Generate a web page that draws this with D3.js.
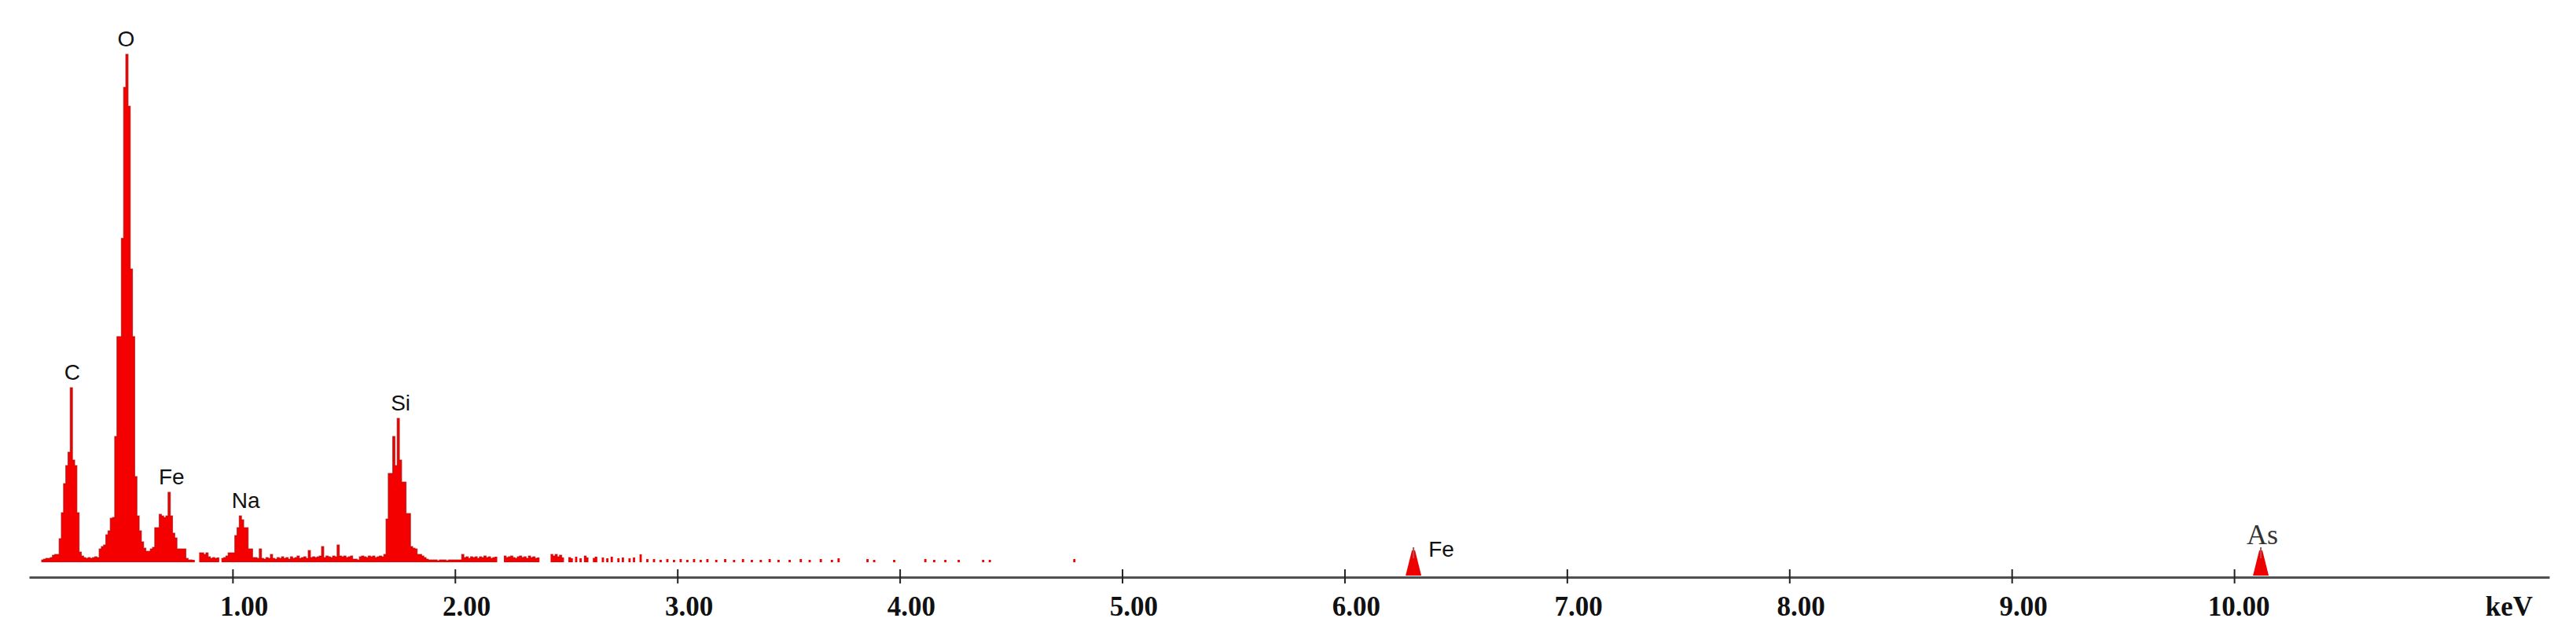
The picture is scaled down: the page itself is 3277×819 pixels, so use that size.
<!DOCTYPE html>
<html>
<head>
<meta charset="utf-8">
<script src="https://cdn.jsdelivr.net/npm/d3@7"></script>
<style>
  html, body { margin: 0; padding: 0; background: #fff; }
  svg { display: block; }
</style>
</head>
<body>
<svg id="chart" width="3277" height="819"></svg>
<script>
// ---------------- DATA ----------------
// Channel counts, 0.01 keV channels, starting at 0.13 keV (dense low-energy region)
const denseStartKeV = 0.13;
const denseCounts = [
  0,3,4,5,5,6,9,10,10,30,
  63,100,123,140,222,130,123,63,13,8,
  6,5,6,5,6,7,6,17,20,22,
  35,40,56,57,160,287,287,412,604,646,
  580,373,287,109,59,40,26,18,14,14,
  17,19,44,44,61,59,57,59,89,59,
  37,31,17,17,17,17,5,3,3,3,
  0,0,12,12,10,12,7,5,6,5,
  6,0,5,6,8,12,12,12,34,44,
  59,54,44,44,17,17,6,6,5,17,
  5,4,6,5,10,5,4,6,5,7,
  5,6,4,7,5,6,8,5,6,7,
  5,15,6,7,6,7,8,20,6,8,
  7,6,8,7,22,8,7,8,6,7,
  8,4,4,3,7,8,7,6,8,7,
  8,6,7,8,7,10,55,113,113,160,
  123,183,130,102,102,62,62,20,18,17,
  10,10,8,6,4,3,3,3,3,2,
  3,3,3,2,3,3,3,3
];
// Sparse high-energy noise channels (keV, counts)
const tailKeV = [2.01,2.02,2.03,2.04,2.05,2.06,2.07,2.08,2.09,2.10,2.11,2.12,2.13,2.14,2.15,2.16,2.17,2.18,
  2.22,2.23,2.24,2.25,2.26,2.27,2.28,2.29,2.30,2.31,2.32,2.33,2.34,2.35,2.36,2.37,
  2.43,2.44,2.45,2.46,2.47,2.48,
  2.51,2.52,2.54,2.56,2.58,2.59,2.62,2.63,2.66,2.68,2.70,2.73,2.75,2.78,2.80,2.83,
  2.86,2.89,2.92,2.95,2.98,3.01,3.04,3.07,3.10,3.13,3.17,3.21,3.25,3.29,3.33,3.37,3.41,3.45,
  3.50,3.55,3.59,3.64,3.69,3.72,3.85,3.88,3.97,4.11,4.15,4.20,4.26,4.37,4.40,4.78];
const tailCounts = [3,3,10,6,7,5,7,6,7,5,7,6,8,6,7,5,6,7,
  8,6,7,8,6,5,7,8,6,7,5,8,6,7,5,6,
  10,8,10,7,9,6,
  6,5,7,5,8,6,5,7,6,5,7,5,6,5,6,10,
  4,4,3,4,3,4,3,4,3,4,3,4,3,4,3,3,4,3,
  3,4,3,4,3,5,4,3,3,4,3,3,3,3,3,4];

// Peak markers drawn at the axis (high-energy lines)
const markerKeV = [6.31, 10.12];
const markerCounts = [15, 15];

// Element labels
const spectrumLabels = ["C", "O", "Fe", "Na", "Si"];
const spectrumLabelKeV = [0.275, 0.525, 0.715, 1.035, 1.745];
const markerLabels = ["Fe", "As"];

// Axis ticks
const tickValues = [1, 2, 3, 4, 5, 6, 7, 8, 9, 10];
const tickLabels = ["1.00","2.00","3.00","4.00","5.00","6.00","7.00","8.00","9.00","10.00"];
const axisUnit = "keV";

// ---------------- LAYOUT ----------------
const W = 3277, H = 819;
const axisY = 734;
const x = d3.scaleLinear().domain([0.085, 11.417]).range([37, 3243]);
const y = d3.scaleLinear().domain([0, 700]).range([715, 15]);

// build channel array (0 where no counts)
const byIndex = new Map();
denseCounts.forEach((c, i) => byIndex.set(Math.round(denseStartKeV * 100) + i, c));
tailKeV.forEach((k, i) => byIndex.set(Math.round(k * 100), tailCounts[i]));
const idxMin = Math.round(denseStartKeV * 100);
const idxMax = d3.max(Array.from(byIndex.keys())) + 1;
const channels = d3.range(idxMin, idxMax + 1).map(i => ({ k: i / 100, c: byIndex.get(i) || 0 }));

const svg = d3.select("#chart");
svg.append("rect").attr("width", W).attr("height", H).attr("fill", "#ffffff");

// spectrum fill
const area = d3.area()
  .x(d => x(d.k))
  .y0(y(0))
  .y1(d => y(d.c))
  .curve(d3.curveStepAfter);
svg.append("path")
  .datum(channels)
  .attr("d", area)
  .attr("fill", "#f40000");

// darker outline on the bars
const line = d3.line()
  .defined(d => d.c > 0)
  .x(d => x(d.k))
  .y(d => y(d.c))
  .curve(d3.curveStepAfter);
svg.append("path")
  .datum(channels)
  .attr("d", line)
  .attr("fill", "none")
  .attr("stroke", "#a81010")
  .attr("stroke-width", 1.2)
  .attr("stroke-opacity", 0.7);

// high-energy markers (triangles)
markerKeV.forEach((k, i) => {
  const cx = x(k), top = y(markerCounts[i]);
  svg.append("path")
    .attr("d", `M${cx - 10},${axisY - 2} L${cx - 2},${top} L${cx + 2},${top} L${cx + 10},${axisY - 2} Z`)
    .attr("fill", "#ee0000");
  svg.append("line")
    .attr("x1", cx).attr("x2", cx)
    .attr("y1", top - 4).attr("y2", top + 10)
    .attr("stroke", "#b05050").attr("stroke-width", 2);
});

// axis
const axis = d3.axisBottom(x)
  .tickValues(tickValues)
  .tickFormat((d, i) => tickLabels[i])
  .tickSizeOuter(0)
  .tickSizeInner(8);
const gAxis = svg.append("g").attr("transform", `translate(0,${axisY})`).call(axis);
gAxis.select(".domain").attr("stroke", "#505050").attr("stroke-width", 3);
gAxis.selectAll(".tick line")
  .attr("y1", -10).attr("y2", 8)
  .attr("stroke", "#222").attr("stroke-width", 2);
gAxis.selectAll(".tick text")
  .attr("y", 49).attr("dy", null)
  .attr("x", 45)
  .attr("text-anchor", "end")
  .attr("fill", "#111")
  .style("font-family", "'Liberation Serif', 'Times New Roman', serif")
  .style("font-weight", "bold")
  .style("font-size", "35px");

svg.append("text")
  .attr("x", 3192).attr("y", axisY + 49)
  .attr("text-anchor", "middle")
  .attr("fill", "#111")
  .style("font-family", "'Liberation Serif', 'Times New Roman', serif")
  .style("font-weight", "bold")
  .style("font-size", "35px")
  .text(axisUnit);

// spectrum element labels
const labelDx = [1, -1, 3, 7, 3];
spectrumLabels.forEach((lab, i) => {
  const k = spectrumLabelKeV[i];
  const near = channels.filter(d => Math.abs(d.k + 0.005 - k) < 0.02);
  const peak = d3.max(near, d => d.c);
  svg.append("text")
    .attr("x", x(k) + labelDx[i])
    .attr("y", y(peak) - 10)
    .attr("text-anchor", "middle")
    .attr("fill", "#111")
    .style("font-family", "'Liberation Sans', Arial, sans-serif")
    .style("font-size", "28px")
    .text(lab);
});

// marker labels
svg.append("text")
  .attr("x", x(markerKeV[0]) + 19)
  .attr("y", y(markerCounts[0]) + 8)
  .attr("text-anchor", "start")
  .attr("fill", "#111")
  .style("font-family", "'Liberation Sans', Arial, sans-serif")
  .style("font-size", "28px")
  .text(markerLabels[0]);
svg.append("text")
  .attr("x", x(markerKeV[1]) + 2)
  .attr("y", y(markerCounts[1]) - 8)
  .attr("text-anchor", "middle")
  .attr("fill", "#333")
  .style("font-family", "'Liberation Serif', 'Times New Roman', serif")
  .style("font-size", "36px")
  .text(markerLabels[1]);
</script>
</body>
</html>
